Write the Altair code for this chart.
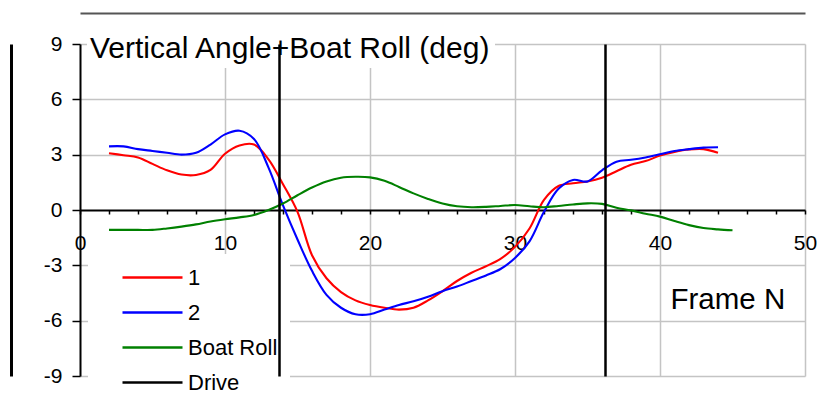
import altair as alt
import pandas as pd

# ---- data ----
frames_12 = list(range(2, 45))
series_1 = [3.08, 2.97, 2.85, 2.5, 2.15, 1.92, 1.9, 2.17, 3.05, 3.5, 3.55, 2.75, 1.4,
            -0.1, -2.45, -3.7, -4.45, -4.9, -5.15, -5.3, -5.4, -5.3, -4.9, -4.4, -3.85,
            -3.4, -3.05, -2.65, -2.0, -1.0, 0.55, 1.3, 1.45, 1.55, 1.75, 2.1, 2.45, 2.65,
            2.95, 3.15, 3.28, 3.3, 3.1]
series_2 = [3.45, 3.45, 3.3, 3.2, 3.1, 3.0, 3.1, 3.55, 4.1, 4.3, 3.85, 2.3, 0.25,
            -1.6, -3.3, -4.6, -5.3, -5.65, -5.65, -5.4, -5.15, -4.95, -4.7, -4.4, -4.15,
            -3.85, -3.55, -3.2, -2.6, -1.7, -0.1, 1.15, 1.63, 1.55, 2.15, 2.62, 2.72, 2.85,
            3.02, 3.2, 3.3, 3.38, 3.4]
frames_roll = list(range(2, 46))
boat_roll = [-1.08, -1.08, -1.08, -1.08, -1.0, -0.9, -0.78, -0.62, -0.5, -0.4, -0.27,
             0.0, 0.35, 0.8, 1.22, 1.55, 1.75, 1.8, 1.77, 1.58, 1.25, 0.9, 0.6, 0.35,
             0.2, 0.15, 0.17, 0.22, 0.27, 0.2, 0.15, 0.22, 0.3, 0.36, 0.33, 0.12, -0.02,
             -0.2, -0.36, -0.6, -0.82, -0.98, -1.05, -1.1]
drive_frames = [13.7, 36.2]

series_names = ["1", "2", "Boat Roll", "Drive"]
series_colors = ["#ff0000", "#0000ff", "#008000", "#000000"]
x_ticks = list(range(0, 51, 2))
y_ticks = [-9, -6, -3, 0, 3, 6, 9]
chart_title = "Vertical Angle+Boat Roll (deg)"
x_title = "Frame N"

rows = []
for f, v in zip(frames_12, series_1):
    rows.append({"frame": f, "value": v, "series": "1"})
for f, v in zip(frames_12, series_2):
    rows.append({"frame": f, "value": v, "series": "2"})
for f, v in zip(frames_roll, boat_roll):
    rows.append({"frame": f, "value": v, "series": "Boat Roll"})
df = pd.DataFrame(rows)
drive_df = pd.DataFrame({"frame": drive_frames, "kind": ["Drive"] * len(drive_frames)})

FONT = "Liberation Sans"
GRID = "#c4c4c4"
xscale = alt.Scale(domain=[0, 50], nice=False, zero=False)
yscale = alt.Scale(domain=[-9, 9], nice=False, zero=False)

lines = alt.Chart(df).mark_line(interpolate="catmull-rom", strokeWidth=2.1).encode(
    x=alt.X("frame:Q", scale=xscale, axis=alt.Axis(
        orient="bottom", offset=-166, values=x_ticks,
        labelExpr="datum.value % 10 === 0 ? datum.label : ''",
        labelFont=FONT, labelFontSize=21, labelColor="#000", labelPadding=18,
        labelFlush=False, labelOverlap=False,
        tickSize=4, tickColor="#000", tickWidth=1.5,
        domainColor="#000", domainWidth=2,
        grid=True, gridColor=GRID, gridWidth=1.5,
        gridOpacity=alt.condition("datum.value % 10 === 0 && datum.value > 0",
                                  alt.value(1), alt.value(0)),
        title=x_title, titleFont=FONT, titleFontSize=29.5, titleFontWeight="normal",
        titleColor="#000", titleX=590, titleY=98, titleAlign="left",
        titleBaseline="alphabetic")),
    y=alt.Y("value:Q", scale=yscale, title="", axis=alt.Axis(
        orient="left", values=y_ticks,
        labelExpr="'' + datum.value",
        labelFont=FONT, labelFontSize=21, labelColor="#000", labelPadding=10,
        tickSize=8, tickColor="#000", tickWidth=1.5,
        domainColor="#000", domainWidth=2,
        grid=True, gridColor=GRID, gridWidth=1.5,
        gridOpacity=alt.condition("datum.value !== 0", alt.value(1), alt.value(0)))),
    color=alt.Color("series:N", scale=alt.Scale(domain=series_names, range=series_colors),
                    legend=alt.Legend(
                        orient="none", legendX=8, legendY=210, direction="vertical",
                        title="", fillColor="white", padding=12,
                        symbolType="M-1,0H5", symbolSize=400, symbolStrokeWidth=2.5,
                        symbolOffset=21, labelOffset=44, rowPadding=12,
                        labelFont=FONT, labelFontSize=22, labelColor="#000")),
)

# Drive lines drawn as a gridline axis on top of everything (zindex 1);
# its (invisible) strokeDash legend carries the chart title on a white box.
drive = alt.Chart(drive_df).mark_rule(opacity=0).encode(
    x=alt.X("frame:Q", scale=xscale, title="", axis=alt.Axis(
        orient="top", values=drive_frames, grid=True, gridColor="#000", gridWidth=2.5,
        domain=False, ticks=False, labels=False, zindex=1)),
    strokeDash=alt.StrokeDash("kind:N", legend=alt.Legend(
        orient="none", legendX=7, legendY=-13, direction="vertical",
        title=chart_title, titleFont=FONT, titleFontSize=30, titleFontWeight="normal",
        titleColor="#000", titlePadding=0, titleLimit=600,
        fillColor="white", padding=3,
        symbolOpacity=0, symbolSize=0, symbolStrokeWidth=0,
        labelExpr="''", labelFontSize=1, labelOpacity=0)),
)

frame = alt.Chart(drive_df).mark_rule(opacity=0).encode(
    x=alt.X("frame:Q", scale=xscale, title="", axis=alt.Axis(
        orient="top", offset=31, grid=False, domain=True, domainColor="#555555",
        domainWidth=2, ticks=False, labels=False)),
    y=alt.YDatum(0, scale=yscale, title="", axis=alt.Axis(
        orient="left", offset=69, grid=False, domain=True, domainColor="#000",
        domainWidth=3, ticks=False, labels=False)),
)

chart = alt.layer(lines, drive, frame).resolve_axis(
    x="independent", y="independent"
).properties(
    width=725, height=332, autosize="none",
    padding={"left": 72, "top": 36, "right": 12, "bottom": 20},
    background="white",
).configure_view(strokeOpacity=0)

chart.save("out.html", embed_options={"renderer": "svg", "actions": False})
